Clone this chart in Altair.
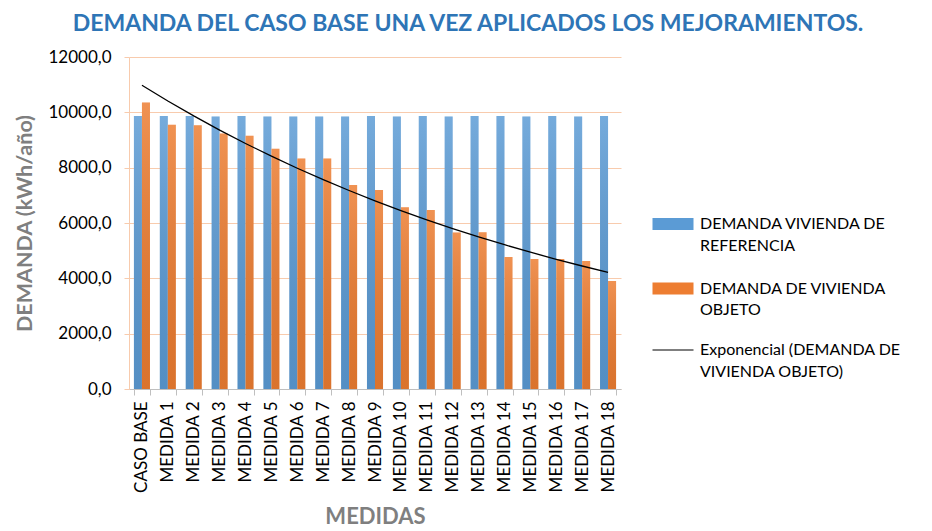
import altair as alt
import numpy as np
import pandas as pd

categorias = ["CASO BASE", "MEDIDA 1", "MEDIDA 2", "MEDIDA 3", "MEDIDA 4", "MEDIDA 5",
              "MEDIDA 6", "MEDIDA 7", "MEDIDA 8", "MEDIDA 9", "MEDIDA 10", "MEDIDA 11",
              "MEDIDA 12", "MEDIDA 13", "MEDIDA 14", "MEDIDA 15", "MEDIDA 16", "MEDIDA 17",
              "MEDIDA 18"]
demanda_referencia = [9870, 9870, 9870, 9850, 9870, 9850, 9850, 9850, 9850, 9870,
                      9850, 9870, 9850, 9870, 9870, 9850, 9870, 9850, 9870]
demanda_objeto = [10355, 9548, 9537, 9234, 9150, 8680, 8330, 8330, 7378, 7197,
                  6570, 6474, 5653, 5667, 4774, 4702, 4702, 4629, 3906]
# legend text lines (series name is the first line; following lines are wrapped text)
serie_ref = ["DEMANDA VIVIENDA DE", "REFERENCIA"]
serie_obj = ["DEMANDA DE VIVIENDA", "OBJETO"]
tendencia = ["Exponencial (DEMANDA DE", "VIVIENDA OBJETO)"]
y_ticks = [0, 2000, 4000, 6000, 8000, 10000, 12000]

series = [serie_ref[0], serie_obj[0]]
rows = []
for c, r, o in zip(categorias, demanda_referencia, demanda_objeto):
    rows.append({"medida": c, "serie": series[0], "valor": r})
    rows.append({"medida": c, "serie": series[1], "valor": o})
bars_df = pd.DataFrame(rows)

# Excel-style exponential trendline fitted to the "objeto" series
idx = np.arange(1, len(demanda_objeto) + 1)
b, ln_a = np.polyfit(idx, np.log(demanda_objeto), 1)
trend_df = pd.DataFrame({"medida": categorias, "valor": np.exp(ln_a + b * idx),
                         "nombre": tendencia[0]})

FONT = "Lato"
GRID = "#f8cbad"
CLEAR = "rgba(0,0,0,0)"

x_enc = alt.X("medida:N", sort=categorias,
              scale=alt.Scale(paddingInner=0.38, paddingOuter=0.19),
              axis=alt.Axis(title="MEDIDAS", labelAngle=-90, labelFontSize=17,
                            labelColor="black", labelFont=FONT, labelPadding=6,
                            tickBand="extent", tickColor="#bfbfbf", tickSize=6,
                            domainColor="#bfbfbf", titleFont=FONT, titleFontSize=22,
                            titleFontWeight="bold", titleColor="#7f7f7f", titlePadding=14))
y_enc = alt.Y("valor:Q", scale=alt.Scale(domain=[0, 12000], nice=False),
              axis=alt.Axis(title="DEMANDA (kWh/año)", values=y_ticks,
                            labelExpr="replace(format(datum.value, '.1f'), '.', ',')",
                            labelFontSize=17, labelColor="black", labelFont=FONT,
                            labelPadding=13, gridColor=GRID, domainColor=GRID,
                            tickColor=GRID, tickSize=5, titleFont=FONT,
                            titleFontSize=21.5, titleFontWeight="bold",
                            titleColor="#7f7f7f", titlePadding=11))

legend_common = dict(title=None, orient="none", symbolSize=100, labelFont=FONT,
                     labelFontSize=16, labelColor="black", labelLimit=400,
                     rowPadding=5.5, labelOffset=19)

color_domain = [serie_ref[0], serie_ref[1], " ", serie_obj[0], serie_obj[1]]
color_range = ["#5b9bd5", CLEAR, CLEAR, "#ed7d31", CLEAR]

bars = alt.Chart(bars_df).mark_bar().encode(
    x=x_enc,
    xOffset=alt.XOffset("serie:N", sort=series),
    y=y_enc,
    color=alt.Color("serie:N",
                    scale=alt.Scale(domain=color_domain, range=color_range),
                    legend=alt.Legend(legendX=536, legendY=159,
                                      symbolType="M-4.1,-1.2H4.1V1.2H-4.1Z",
                                      symbolStrokeWidth=0, **legend_common)),
)

overlay = alt.Chart(bars_df).mark_bar(
    fill=alt.LinearGradient(gradient="linear", x1=0, x2=0, y1=0, y2=1,
                            stops=[alt.GradientStop(color="rgba(255,255,255,0.16)", offset=0),
                                   alt.GradientStop(color="rgba(0,0,0,0.08)", offset=1)])
).encode(x=x_enc, xOffset=alt.XOffset("serie:N", sort=series), y=y_enc)

line = alt.Chart(trend_df).mark_line(strokeWidth=1.3).encode(
    x=x_enc,
    y=y_enc,
    stroke=alt.Stroke("nombre:N",
                      scale=alt.Scale(domain=tendencia, range=["black", CLEAR]),
                      legend=alt.Legend(legendX=536, legendY=285,
                                        symbolType="M-4.1,0H4.1",
                                        symbolStrokeWidth=1.2, **legend_common)),
)

chart = alt.layer(bars, overlay, line).properties(
    width=492, height=332,
    title=alt.TitleParams("DEMANDA DEL CASO BASE UNA VEZ APLICADOS LOS MEJORAMIENTOS.",
                          font=FONT, fontSize=23, fontWeight="bold", color="#2e75b6",
                          anchor="middle", dx=93, offset=12),
    padding={"left": 6, "top": 5, "right": 5, "bottom": 2},
).configure_view(stroke=None)

chart.save("out.html", embed_options={"renderer": "svg", "actions": False})
